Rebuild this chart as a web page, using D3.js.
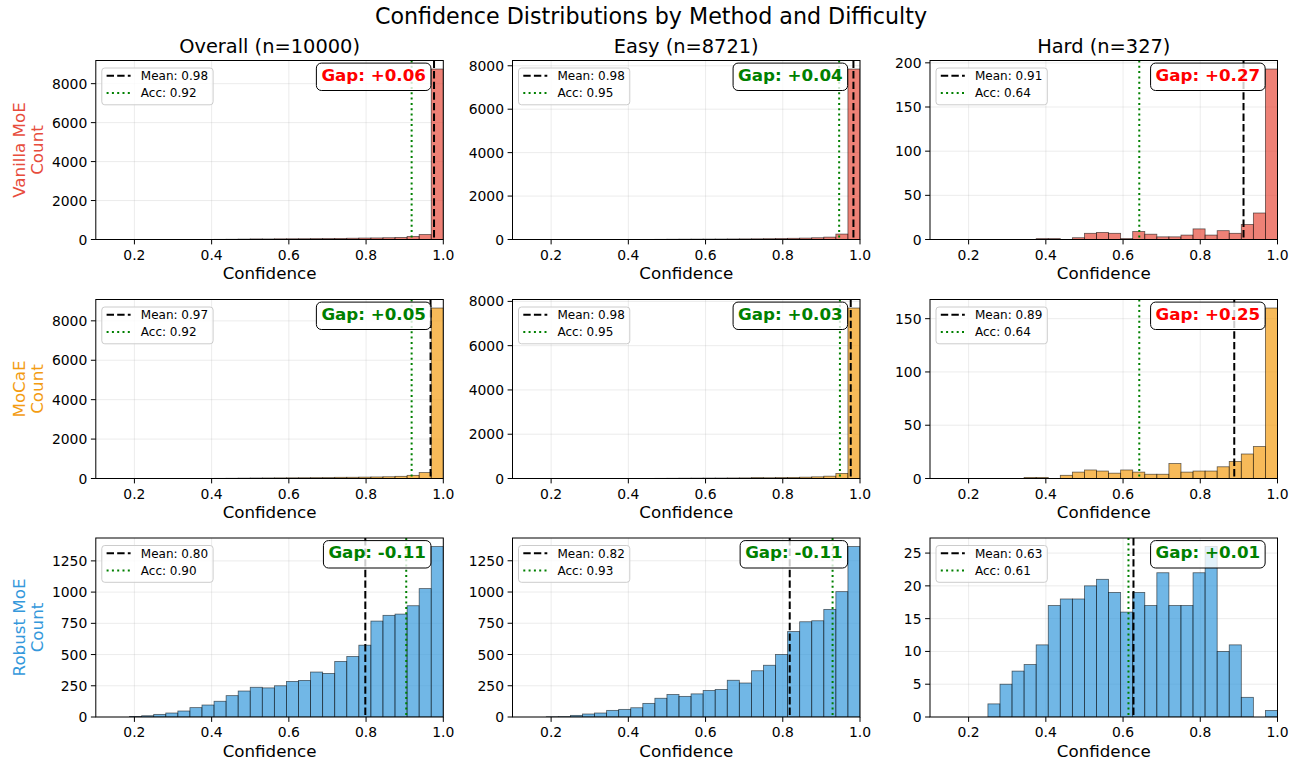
<!DOCTYPE html>
<html><head><meta charset="utf-8">
<script src="https://cdn.jsdelivr.net/npm/d3@7"></script>
<style>body{margin:0;background:#fff;} text{font-family:"DejaVu Sans",sans-serif;}</style>
</head><body><svg id="chart" width="1302" height="765"></svg>
<script>
// ---------------- data ----------------
const figTitle = "Confidence Distributions by Method and Difficulty";
const methods = ["Vanilla MoE", "MoCaE", "Robust MoE"];
const methodColors = ["#e74c3c", "#f39c12", "#3498db"];
const difficulties = ["Overall (n=10000)", "Easy (n=8721)", "Hard (n=327)"];
const binEdgesCount = 32;            // bins of width 1/32 on [0,1]
const xDomain = [0.1, 1.0];
const xTicks = [0.2, 0.4, 0.6, 0.8, 1.0];

// counts per bin (bin k covers [k/32, (k+1)/32])
const vanillaOverall = [0,0,0,0,0,0,0,0,0,0,2,3,5,8,12,20,30,28,35,38,40,45,48,55,65,75,80,90,105,154,256,8752];
const vanillaEasy    = [0,0,0,0,0,0,0,0,0,0,0,0,0,0,5,8,12,15,18,20,22,25,28,32,38,45,55,65,80,110,250,7850];
const vanillaHard    = [0,0,0,0,0,0,0,0,0,0,0,0,1,1,0,2,7,8,7,1,9,6,3,3,5,12,5,10,7,17,30,193];
const mocaeOverall   = [0,0,0,0,0,0,0,0,0,0,0,2,5,8,12,18,25,28,32,35,38,42,45,60,62,70,78,88,110,160,300,8650];
const mocaeEasy      = [0,0,0,0,0,0,0,0,0,0,0,0,0,0,4,7,10,14,17,20,22,25,28,40,35,42,50,60,75,105,230,7700];
const mocaeHard      = [0,0,0,0,0,0,0,0,0,0,0,1,1,0,3,6,8,7,5,8,6,4,4,14,6,7,7,11,16,23,30,160];
const robustOverall  = [0,0,0,0,0,0,4,10,21,32,48,75,96,126,171,208,238,233,250,285,293,360,349,445,485,575,768,814,824,891,1028,1365];
const robustEasy     = [0,0,0,0,0,0,2,3,13,24,32,53,61,74,109,150,180,165,185,212,220,294,272,370,414,500,684,762,770,861,1003,1364];
const robustHard     = [0,0,0,0,0,0,0,0,2,5,7,8,11,17,18,18,20,21,19,16,19,17,22,17,17,22,26,10,11,3,0,1];

const meanConf = [[0.976, 0.983, 0.912], [0.967, 0.976, 0.888], [0.798, 0.818, 0.627]];
const accuracy = [[0.918, 0.946, 0.642], [0.918, 0.948, 0.642], [0.904, 0.929, 0.614]];
const gapThreshold = 0.05;

const yTicksVanilla = [[0,2000,4000,6000,8000],[0,2000,4000,6000,8000],[0,50,100,150,200]];
const yTicksMocae   = [[0,2000,4000,6000,8000],[0,2000,4000,6000,8000],[0,50,100,150]];
const yTicksRobust  = [[0,250,500,750,1000,1250],[0,250,500,750,1000,1250],[0,5,10,15,20,25]];

const countsGrid = [[vanillaOverall, vanillaEasy, vanillaHard],
                    [mocaeOverall, mocaeEasy, mocaeHard],
                    [robustOverall, robustEasy, robustHard]];
const yTicksGrid = [yTicksVanilla, yTicksMocae, yTicksRobust];

// ---------------- layout ----------------
const colX = [95.8, 512.5, 930];
const rowY = [60.5, 299.5, 538];
const pw = 347.5, ph = 179;
const svg = d3.select("#chart");

svg.append("text").attr("x", 651).attr("y", 24).attr("text-anchor", "middle")
  .attr("font-size", 22.2).text(figTitle);

const gapRed = "#ff0000", gapGreen = "#008000";

for (let r = 0; r < 3; r++) {
  for (let c = 0; c < 3; c++) {
    const x0 = colX[c], y0 = rowY[r];
    const counts = countsGrid[r][c];
    const bins = counts.map((v, k) => ({x0: k / binEdgesCount, x1: (k + 1) / binEdgesCount, v}));
    const ymax = d3.max(counts) * 1.05;
    const x = d3.scaleLinear().domain(xDomain).range([0, pw]);
    const y = d3.scaleLinear().domain([0, ymax]).range([ph, 0]);
    const g = svg.append("g").attr("transform", `translate(${x0},${y0})`);
    const clipId = `clip-${r}-${c}`;
    g.append("clipPath").attr("id", clipId).append("rect").attr("width", pw).attr("height", ph);

    // grid
    const grid = g.append("g").attr("stroke", "#b0b0b0").attr("stroke-opacity", 0.3).attr("stroke-width", 0.8);
    xTicks.forEach(t => grid.append("line").attr("x1", x(t)).attr("x2", x(t)).attr("y1", 0).attr("y2", ph));
    yTicksGrid[r][c].forEach(t => grid.append("line").attr("y1", y(t)).attr("y2", y(t)).attr("x1", 0).attr("x2", pw));

    // bars
    g.append("g").attr("clip-path", `url(#${clipId})`)
      .selectAll("rect").data(bins.filter(b => b.v > 0)).join("rect")
      .attr("x", d => x(d.x0)).attr("width", d => x(d.x1) - x(d.x0))
      .attr("y", d => y(d.v)).attr("height", d => ph - y(d.v))
      .attr("fill", methodColors[r]).attr("fill-opacity", 0.7)
      .attr("stroke", "#000").attr("stroke-opacity", 0.6).attr("stroke-width", 0.8);

    // vertical lines
    const m = meanConf[r][c], a = accuracy[r][c];
    g.append("line").attr("x1", x(m)).attr("x2", x(m)).attr("y1", 0).attr("y2", ph)
      .attr("stroke", "#000").attr("stroke-width", 2).attr("stroke-dasharray", "7.4,3.2");
    g.append("line").attr("x1", x(a)).attr("x2", x(a)).attr("y1", 0).attr("y2", ph)
      .attr("stroke", "#008000").attr("stroke-width", 2).attr("stroke-dasharray", "2,3.3");

    // spines
    g.append("rect").attr("width", pw).attr("height", ph).attr("fill", "none")
      .attr("stroke", "#000").attr("stroke-width", 1);

    // axis ticks
    xTicks.forEach(t => {
      g.append("line").attr("x1", x(t)).attr("x2", x(t)).attr("y1", ph).attr("y2", ph + 4.9)
        .attr("stroke", "#000").attr("stroke-width", 1);
      g.append("text").attr("x", x(t)).attr("y", ph + 20).attr("text-anchor", "middle")
        .attr("font-size", 13.9).text(t.toFixed(1));
    });
    yTicksGrid[r][c].forEach(t => {
      g.append("line").attr("x1", -4.9).attr("x2", 0).attr("y1", y(t)).attr("y2", y(t))
        .attr("stroke", "#000").attr("stroke-width", 1);
      g.append("text").attr("x", -8.5).attr("y", y(t) + 5).attr("text-anchor", "end")
        .attr("font-size", 13.9).text(t);
    });
    g.append("text").attr("x", pw / 2).attr("y", ph + 39.5).attr("text-anchor", "middle")
      .attr("font-size", 16.7).text("Confidence");

    if (r === 0) {
      g.append("text").attr("x", pw / 2).attr("y", -7.5).attr("text-anchor", "middle")
        .attr("font-size", 19.4).text(difficulties[c]);
    }
    if (c === 0) {
      const cy = ph / 2;
      const lab = g.append("text").attr("transform", `translate(${25 - x0},${cy}) rotate(-90)`)
        .attr("text-anchor", "middle").attr("font-size", 16.7).attr("fill", methodColors[r]);
      lab.append("tspan").attr("x", 0).attr("y", 0).text(methods[r]);
      lab.append("tspan").attr("x", 0).attr("y", 18).text("Count");
    }

    // legend
    const lg = g.append("g");
    const lx = 6, ly = 7.5;
    const frame = lg.append("rect").attr("x", lx).attr("y", ly).attr("height", 36.8)
      .attr("rx", 3).attr("fill", "#fff").attr("fill-opacity", 0.8)
      .attr("stroke", "#cccccc").attr("stroke-width", 1);
    const rowsL = [
      {label: `Mean: ${m.toFixed(2)}`, color: "#000", dash: "7.4,3.2", cy: 15.3},
      {label: `Acc: ${a.toFixed(2)}`, color: "#008000", dash: "2,3.3", cy: 32.6}
    ];
    let maxW = 0;
    rowsL.forEach(rw => {
      lg.append("line").attr("x1", lx + 4.8).attr("x2", lx + 28.8).attr("y1", rw.cy).attr("y2", rw.cy)
        .attr("stroke", rw.color).attr("stroke-width", 2).attr("stroke-dasharray", rw.dash);
      const t = lg.append("text").attr("x", lx + 39).attr("y", rw.cy + 4.3)
        .attr("font-size", 12).text(rw.label);
      maxW = Math.max(maxW, t.node().getComputedTextLength());
    });
    frame.attr("width", 39 + maxW + 5);

    // gap box
    const gap = m - a;
    const gapTxt = (gap >= 0 ? "+" : "-") + Math.abs(gap).toFixed(2);
    const gb = g.append("g");
    const gr = gb.append("rect");
    const gt = gb.append("text").attr("x", pw * 0.95).attr("y", 20).attr("text-anchor", "end")
      .attr("font-size", 16.7).attr("font-weight", "bold")
      .attr("fill", gap > gapThreshold ? gapRed : gapGreen).text(`Gap: ${gapTxt}`);
    const tw = gt.node().getComputedTextLength();
    gr.attr("x", pw * 0.95 - tw - 5).attr("y", 2.6).attr("width", tw + 10).attr("height", 27.4)
      .attr("rx", 5).attr("fill", "#fff").attr("fill-opacity", 0.8)
      .attr("stroke", "#000").attr("stroke-width", 1);
  }
}
</script></body></html>
